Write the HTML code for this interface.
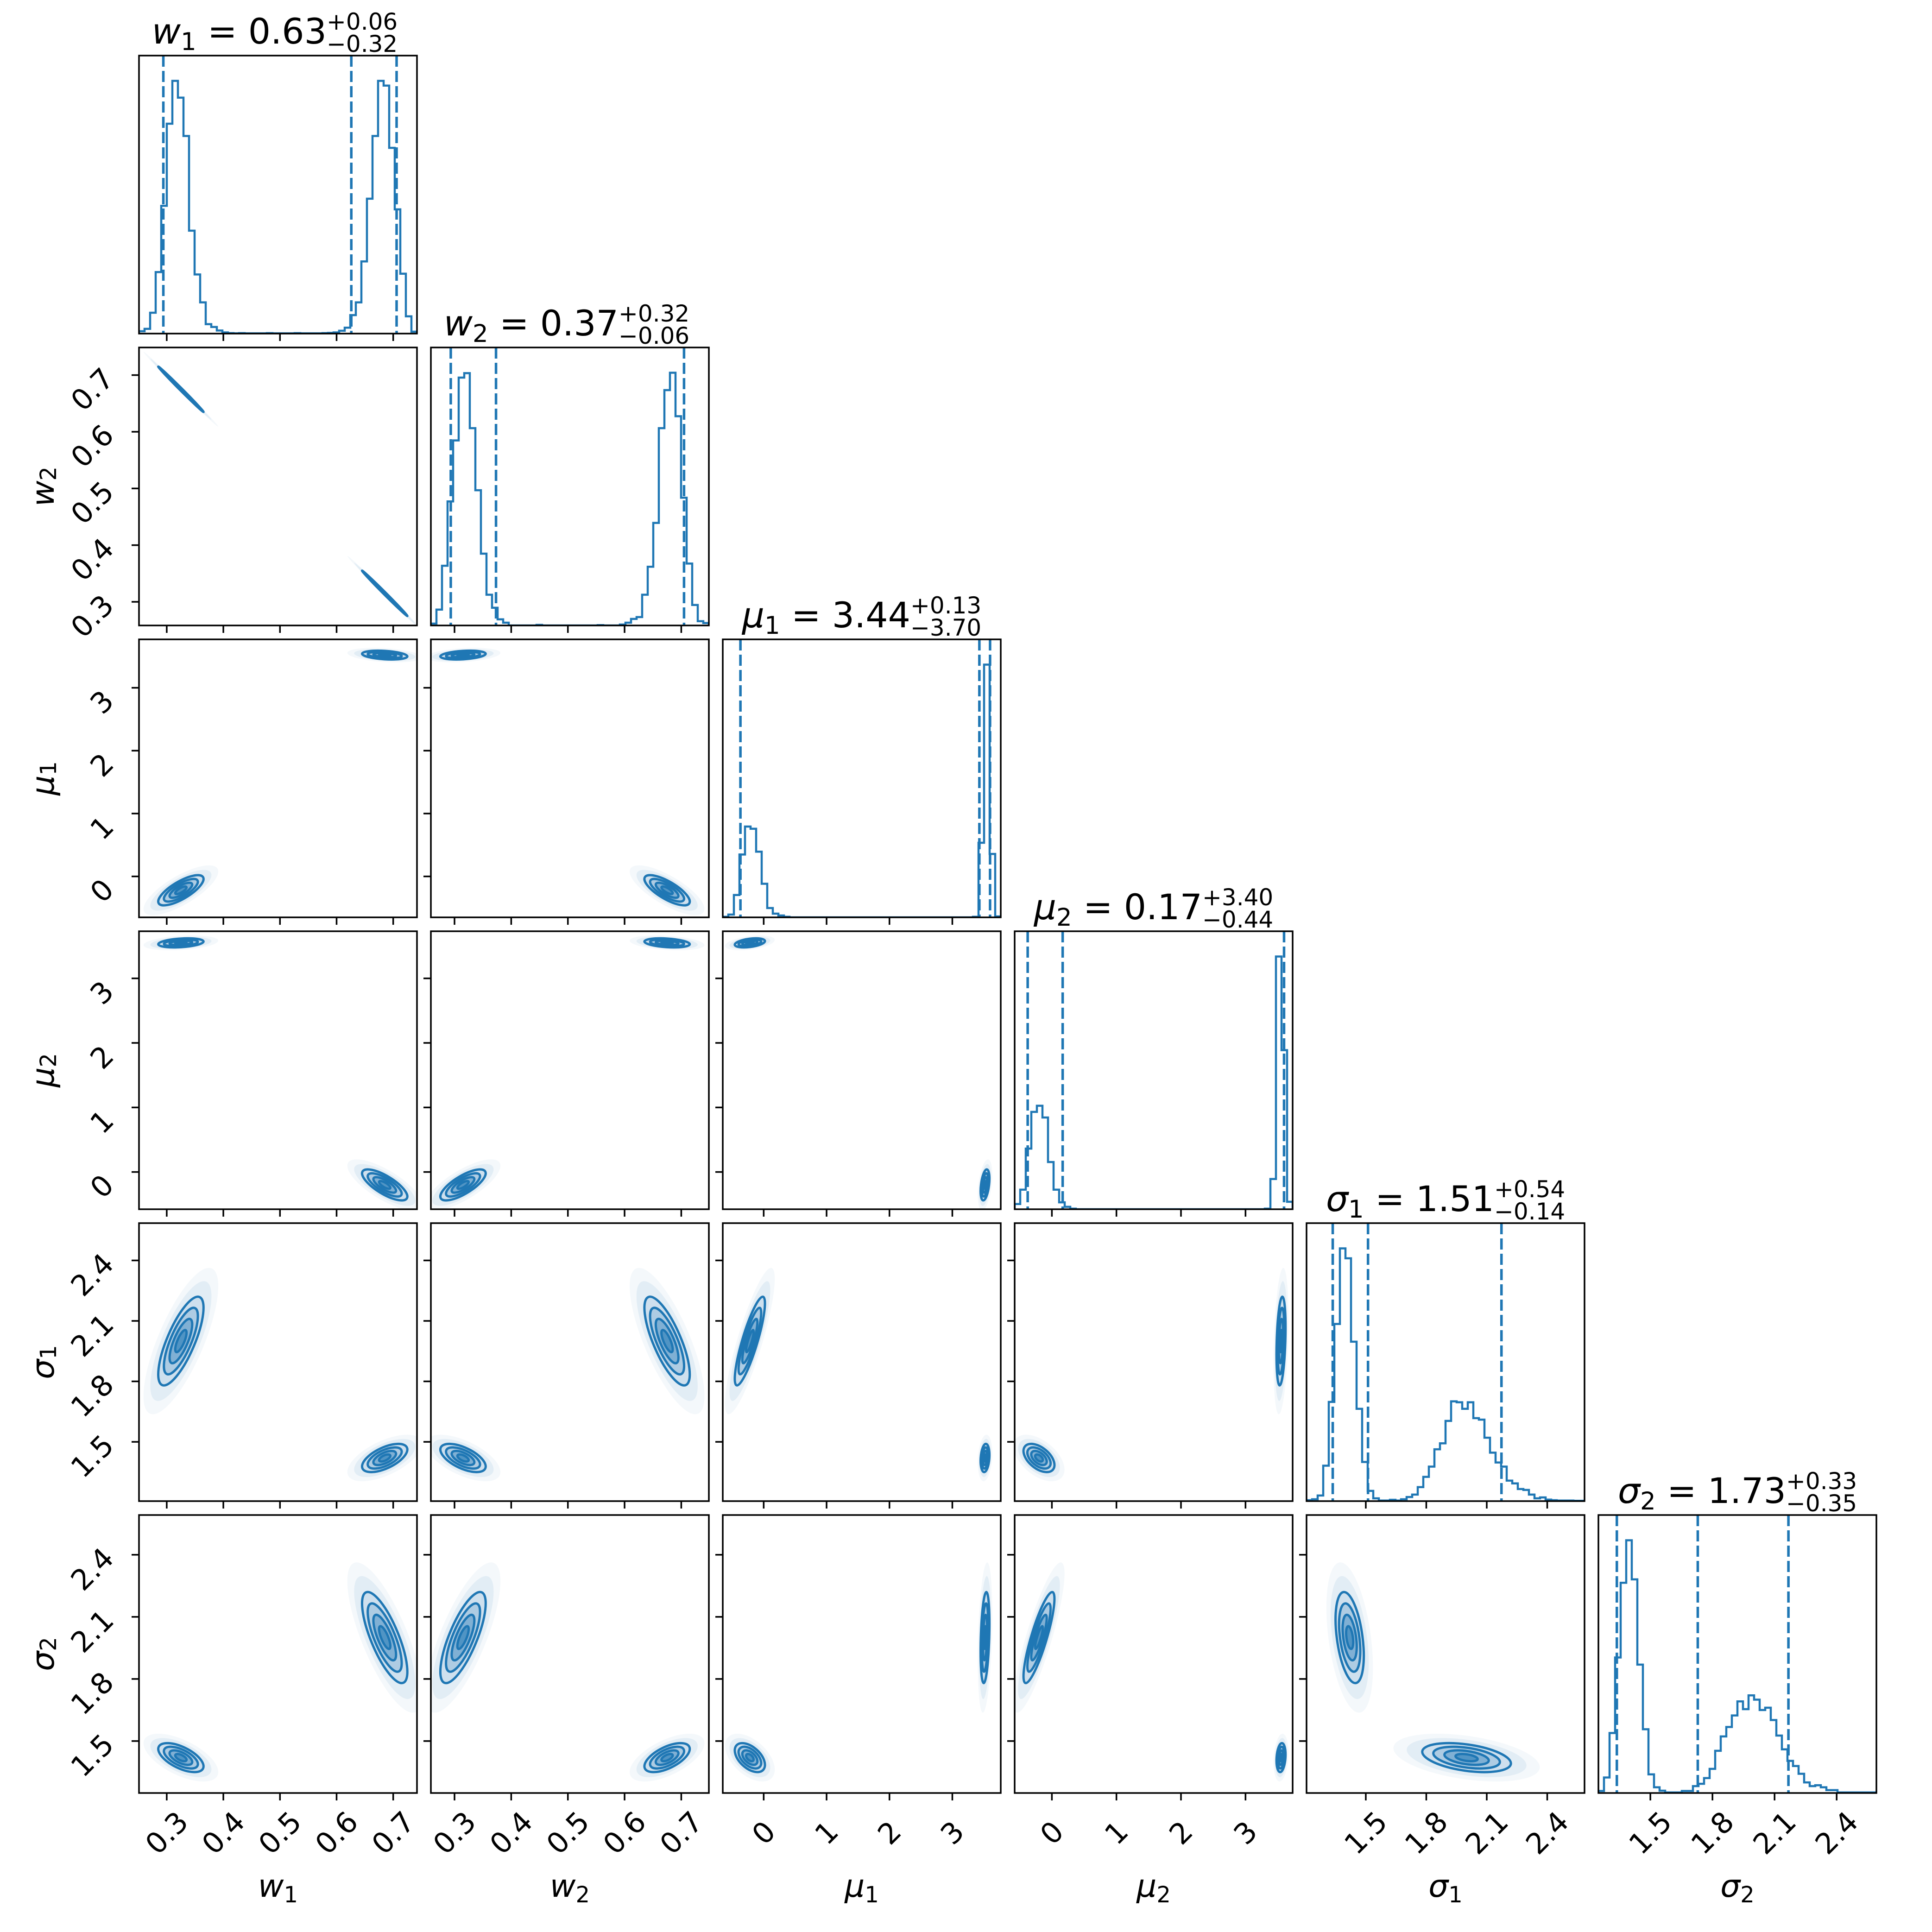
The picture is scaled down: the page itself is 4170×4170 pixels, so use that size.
<!DOCTYPE html>
<html><head><meta charset="utf-8">
<style>
html,body{margin:0;padding:0;background:#fff;}
svg{display:block;font-family:"DejaVu Sans","Liberation Sans",sans-serif;}
</style></head>
<body>
<svg id="chart" xmlns="http://www.w3.org/2000/svg" width="4170" height="4170" viewBox="0 0 4170 4170">
<rect x="0" y="0" width="4170" height="4170" fill="#fff"/>
</svg>
<script>
// ---- data ----
const paramNames = ["w1","w2","mu1","mu2","sigma1","sigma2"];
const ranges = [[0.251,0.742],[0.2583,0.7487],[-0.651,3.77],[-0.577,3.73],[1.206,2.585],[1.249,2.592]];
const ticksW = [0.3,0.4,0.5,0.6,0.7];
const ticksMu = [0,1,2,3];
const ticksSig = [1.5,1.8,2.1,2.4];
const tickLabelsW = ["0.3","0.4","0.5","0.6","0.7"];
const tickLabelsMu = ["0","1","2","3"];
const tickLabelsSig = ["1.5","1.8","2.1","2.4"];
const histW1 = [10,20,88,260,540,887,1068,997,835,435,250,132,40,28,13,5,2,1,2,1,1,1,1,2,1,1,1,1,2,1,1,1,1,2,3,5,12,25,78,132,305,570,835,1068,1048,785,525,253,73,8];
const histW2 = [10,85,320,665,992,1329,1353,1058,725,385,165,95,33,15,0,0,0,0,0,3,0,0,0,0,0,0,0,0,0,0,2,0,0,0,5,15,35,45,165,315,550,1058,1262,1355,1122,685,332,110,23,13];
const histMu1 = [3,15,120,337,487,475,352,180,50,20,10,3,0,0,0,0,0,0,0,0,0,0,0,0,0,0,0,0,0,0,0,0,0,0,0,0,0,0,0,0,0,0,0,0,0,3,400,1355,340,5];
const histMu2 = [28,105,325,522,555,492,253,105,37,13,3,0,0,0,0,0,0,0,0,0,0,0,0,0,0,0,0,0,0,0,0,0,0,0,0,0,0,0,0,0,0,0,0,0,0,3,162,1355,853,40];
const histS1 = [5,10,30,190,532,950,1355,1302,855,495,210,55,15,3,3,7,3,10,22,35,75,130,185,278,310,430,535,530,495,530,445,437,340,260,207,185,110,95,65,60,35,15,20,8,5,3,3,3,2,2];
const histS2 = [7,54,209,472,732,880,744,447,222,65,20,8,2,2,2,7,7,24,32,52,84,147,197,230,270,319,292,340,325,289,297,254,200,152,112,94,67,37,24,27,20,10,10,2,2,2,2,2,2,2];
const quantW1 = [0.294,0.626,0.706];
const quantW2 = [0.2934,0.3732,0.7049];
const quantMu1 = [-0.37,3.43,3.60];
const quantMu2 = [-0.375,0.167,3.597];
const quantS1 = [1.336,1.511,2.173];
const quantS2 = [1.338,1.729,2.167];
const meanA = [0.325,0.675,-0.22,3.55,2.0,1.42];
const meanB = [0.685,0.315,3.52,-0.2,1.42,2.0];
const stdA = [0.02,0.02,0.12,0.035,0.11,0.035];
const stdB = [0.02,0.02,0.035,0.12,0.035,0.11];
const corrA = [
 [1,-0.999,0.75,0.3,0.75,-0.6],
 [-0.999,1,-0.75,-0.3,-0.75,0.6],
 [0.75,-0.75,1,0.4,0.85,-0.5],
 [0.3,-0.3,0.4,1,0.3,0.2],
 [0.75,-0.75,0.85,0.3,1,-0.4],
 [-0.6,0.6,-0.5,0.2,-0.4,1]];
const modePerm = [1,0,3,2,5,4];
const titleMain = ["0.63","0.37","3.44","0.17","1.51","1.73"];
const titleUp = ["+0.06","+0.32","+0.13","+3.40","+0.54","+0.33"];
const titleDn = ["\u22120.32","\u22120.06","\u22123.70","\u22120.44","\u22120.14","\u22120.35"];

const hists = [histW1,histW2,histMu1,histMu2,histS1,histS2];
const quants = [quantW1,quantW2,quantMu1,quantMu2,quantS1,quantS2];
const tickSets = [ticksW,ticksW,ticksMu,ticksMu,ticksSig,ticksSig];
const tickLabelSets = [tickLabelsW,tickLabelsW,tickLabelsMu,tickLabelsMu,tickLabelsSig,tickLabelsSig];
const symbols = [["w","1"],["w","2"],["\u03bc","1"],["\u03bc","2"],["\u03c3","1"],["\u03c3","2"]];

// ---- layout ----
const L0=300, T0=120, P=630, S=600, BLUE="#1f77b4", TFS=62;
const NS="http://www.w3.org/2000/svg";
const svg=document.getElementById("chart");
function el(tag,attrs,parent){const e=document.createElementNS(NS,tag);for(const k in attrs)e.setAttribute(k,attrs[k]);(parent||svg).appendChild(e);return e;}
function xPix(i,v){return L0+i*P+(v-ranges[i][0])/(ranges[i][1]-ranges[i][0])*S;}
function yPix(i,v){return T0+i*P+S-(v-ranges[i][0])/(ranges[i][1]-ranges[i][0])*S;}
function textW(s,fs){let w=0;for(const c of s){w+=(c==="."?0.318:0.636)*fs;}return w;}
const N=6;

const defs=el("defs",{});
for(let r=0;r<N;r++)for(let c=0;c<=r;c++){
  const cp=el("clipPath",{id:"cp"+r+"_"+c},defs);
  el("rect",{x:L0+c*P,y:T0+r*P,width:S,height:S},cp);
}

function drawMode(g,i,j,mean,std,corrFn){
  const ax=S/(ranges[j][1]-ranges[j][0]), ay=S/(ranges[i][1]-ranges[i][0]);
  const sx=std[j]*ax, sy=std[i]*ay, rho=corrFn(j,i);
  const a=sx*sx, d=sy*sy, b=-rho*sx*sy;
  const m=(a+d)/2, q=Math.sqrt(((a-d)/2)**2+b*b);
  const l1=m+q, l2=Math.max(m-q,1.5);
  const ang=0.5*Math.atan2(2*b,a-d)*180/Math.PI;
  const cx=xPix(j,mean[j]), cy=yPix(i,mean[i]);
  const levels=[[3.3,0.05,false],[2.7,0.08,false],[2.0,0.10,true],[1.5,0.18,true],[1.0,0.32,true],[0.5,0.5,true]];
  for(const [R,op,stroke] of levels){
    const e=el("ellipse",{cx:cx,cy:cy,rx:Math.sqrt(l1)*R,ry:Math.sqrt(l2)*R,
      transform:`rotate(${ang} ${cx} ${cy})`,fill:BLUE,"fill-opacity":op,
      stroke:stroke?BLUE:"none","stroke-width":stroke?5:0},g);
    
    
  }
}
const corrAFn=(p,q)=>corrA[p][q];
const corrBFn=(p,q)=>corrA[modePerm[p]][modePerm[q]];

for(let r=0;r<N;r++){
  for(let c=0;c<=r;c++){
    const x0=L0+c*P, y0=T0+r*P;
    const g=el("g",{});
    
    
    const inner=el("g",{"clip-path":`url(#cp${r}_${c})`},g);
    if(r===c){
      const h=hists[c], mx=Math.max(...h), nb=h.length;
      const yb=y0+S, ys=S/(1.1*mx);
      let d=`M${xPix(c,ranges[c][0])},${yb}`;
      for(let k=0;k<nb;k++){
        const xa=xPix(c,ranges[c][0]+(ranges[c][1]-ranges[c][0])*k/nb);
        const xb=xPix(c,ranges[c][0]+(ranges[c][1]-ranges[c][0])*(k+1)/nb);
        const yy=yb-h[k]*ys;
        d+=` L${xa},${yy} L${xb},${yy}`;
      }
      d+=` L${xPix(c,ranges[c][1])},${yb}`;
      const p=el("path",{d:d,fill:"none",stroke:BLUE,"stroke-width":4.5,"stroke-linejoin":"miter"},inner);
      
      
      for(const qv of quants[c]){
        const xq=xPix(c,qv);
        const ln=el("line",{x1:xq,y1:y0,x2:xq,y2:y0+S,stroke:BLUE,"stroke-width":5.5,"stroke-dasharray":"24 9"},inner);
        
        
      }
      const cx=x0+S/2+105;
      const t=el("text",{x:cx,y:y0-26,"font-size":76,"text-anchor":"end",fill:"#000"},g);
      
      
      const ts1=el("tspan",{"font-style":"italic"},t); ts1.textContent=symbols[c][0];
      const ts2=el("tspan",{"font-size":53,dy:14},t); ts2.textContent=symbols[c][1];
      const ts3=el("tspan",{dy:-14},t); ts3.textContent=" = "+titleMain[c];
      const tu=el("text",{x:cx,y:y0-56,"font-size":50,"text-anchor":"start",fill:"#000"},g);
      tu.textContent=titleUp[c];
      
      
      const td=el("text",{x:cx,y:y0-8,"font-size":50,"text-anchor":"start",fill:"#000"},g);
      td.textContent=titleDn[c];
      
      
    } else {
      drawMode(inner,r,c,meanA,stdA,corrAFn);
      drawMode(inner,r,c,meanB,stdB,corrBFn);
    }
    const fr=el("rect",{x:x0,y:y0,width:S,height:S,fill:"none",stroke:"#000","stroke-width":3.5},g);
    
    
    tickSets[c].forEach((tv,ti)=>{
      const xt=xPix(c,tv);
      const tk=el("line",{x1:xt,y1:y0+S,x2:xt,y2:y0+S+16,stroke:"#000","stroke-width":3.5},g);
      
      
      if(r===N-1){
        const cyL=y0+S+86;
        const lab=el("text",{x:xt,y:cyL,"font-size":TFS,"text-anchor":"middle","dominant-baseline":"central",transform:`rotate(-45 ${xt} ${cyL})`,fill:"#000"},g);
        lab.textContent=tickLabelSets[c][ti];
        
        
      }
    });
    if(r!==c){
      tickSets[r].forEach((tv,ti)=>{
        const yt=yPix(r,tv);
        const tk=el("line",{x1:x0-16,y1:yt,x2:x0,y2:yt,stroke:"#000","stroke-width":3.5},g);
        
        
        if(c===0){
          const s=tickLabelSets[r][ti];
          const bw=(textW(s,TFS)+0.73*TFS)*0.707;
          const lx=250-bw/2, ly=yt+31;
          const lab=el("text",{x:lx,y:ly,"font-size":TFS,"text-anchor":"middle","dominant-baseline":"central",transform:`rotate(-45 ${lx} ${ly})`,fill:"#000"},g);
          lab.textContent=s;
          
          
        }
      });
    }
  }
}
for(let c=0;c<N;c++){
  const xl=el("text",{x:L0+c*P+S/2,y:4094,"font-size":68,"text-anchor":"middle",fill:"#000"});
  
  
  const a=el("tspan",{"font-style":"italic"},xl); a.textContent=symbols[c][0];
  const b=el("tspan",{"font-size":48,dy:12},xl); b.textContent=symbols[c][1];
}
for(let r=1;r<N;r++){
  const cy=T0+r*P+S/2;
  const yl=el("text",{x:93,y:cy,"font-size":68,"text-anchor":"middle","dominant-baseline":"central",transform:`rotate(-90 93 ${cy})`,fill:"#000"});
  
  
  const a=el("tspan",{"font-style":"italic"},yl); a.textContent=symbols[r][0];
  const b=el("tspan",{"font-size":48,dy:12},yl); b.textContent=symbols[r][1];
}
</script>
</body></html>
